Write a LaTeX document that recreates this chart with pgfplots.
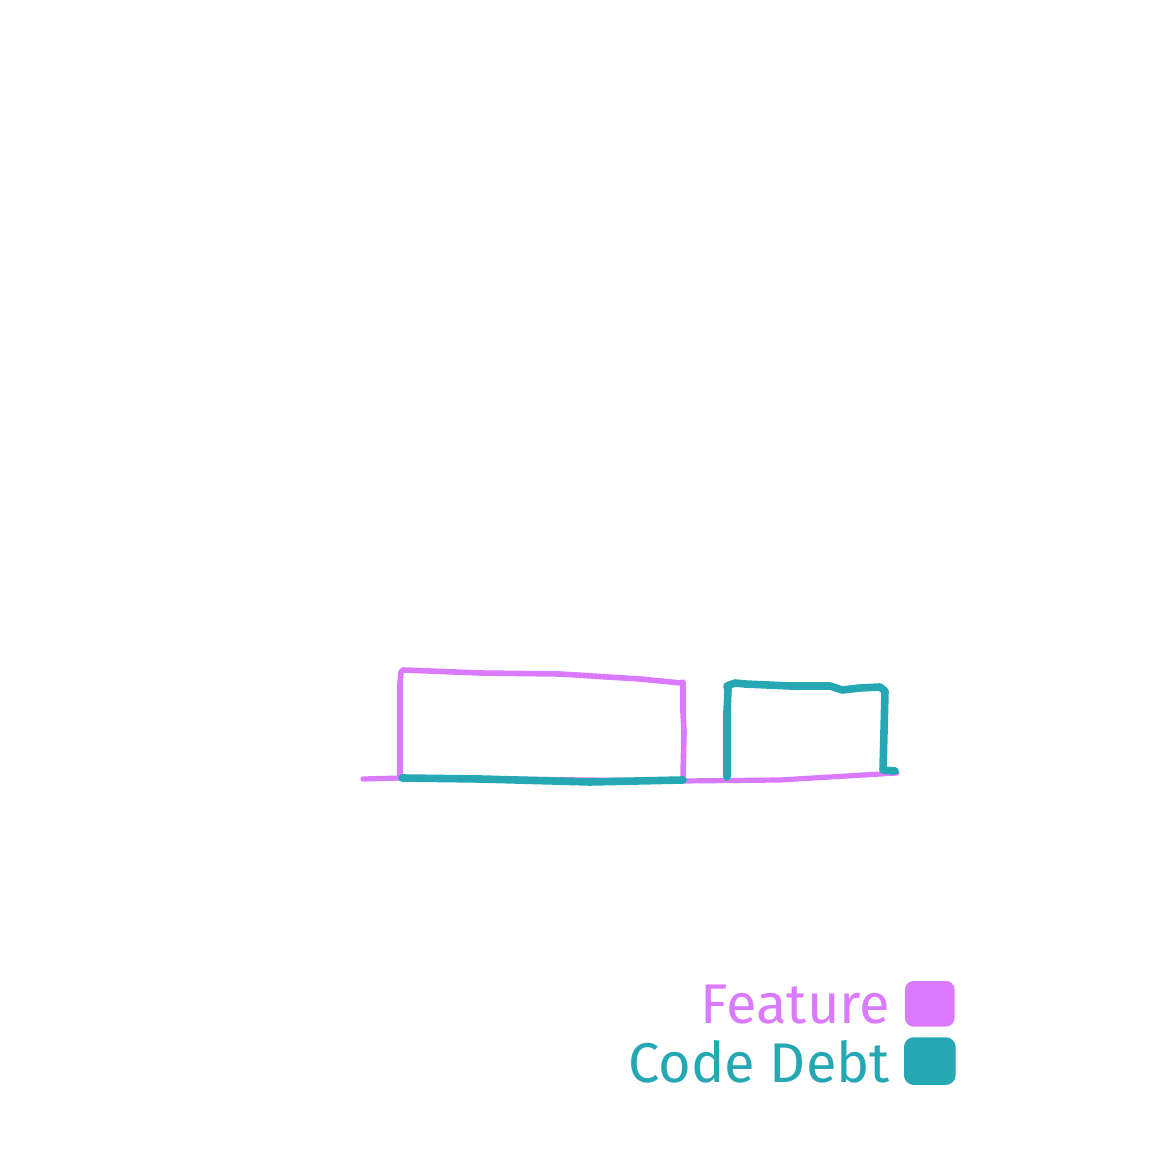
\documentclass[border=0pt]{standalone}
\usepackage{pgfplots}
\pgfplotsset{compat=1.18}
\usepackage{fontspec}
\setmainfont{Fira Sans}
\definecolor{feat}{RGB}{218,122,255}
\definecolor{debt}{RGB}{38,168,180}
\begin{document}
\begin{tikzpicture}
\begin{axis}[
  width=576pt, height=576pt, scale only axis,
  xmin=0, xmax=1152, ymin=0, ymax=1152,
  hide axis, clip=false,
  legend style={at={(axis cs:956,62)}, anchor=south east, draw=none, fill=none,
    font=\fontsize{28}{33}\selectfont, row sep=3pt, inner sep=0pt,
    legend cell align=right},
  legend plot pos=right,
]
% invisible frame to fix the picture size
\addplot[draw=none, forget plot] coordinates {(0,0) (1152,1152)};
% baseline
\addplot[feat, line width=2.6pt, forget plot, line cap=round] coordinates {(363,373) (400,374) (683,371) (780,372) (897,379)};
% Feature bar
\addplot[feat, line width=2.8pt, line join=round, line cap=round,
  legend image code/.code={\path (0,0); \fill[feat, rounded corners=3pt] (5pt,-9pt) rectangle (27pt,11pt);}]
  coordinates {(400,374) (400,468) (401,480) (403,482) (480,479) (560,478) (640,473) (681,469) (683,470) (683,440) (684,420) (683,374)};
\addlegendentry{\textcolor{feat}{Feature}}
% Feature bottom in teal
\addplot[debt, line width=3.8pt, forget plot, line cap=round] coordinates {(402,374) (480,373) (590,370) (683,372)};
% Code Debt bar
\addplot[debt, line width=3.8pt, line join=round, line cap=round,
  legend image code/.code={\path (0,0); \fill[debt, rounded corners=3pt] (5pt,-9pt) rectangle (27pt,11pt);}]
  coordinates {(727,375) (727,440) (728,462) (727,466) (735,469) (745,468) (790,466) (830,466) (842,462) (860,464) (880,465) (885,461) (884,420) (883,382) (895,381)};
\addlegendentry{\textcolor{debt}{Code Debt}}
\end{axis}
\end{tikzpicture}
\end{document}
